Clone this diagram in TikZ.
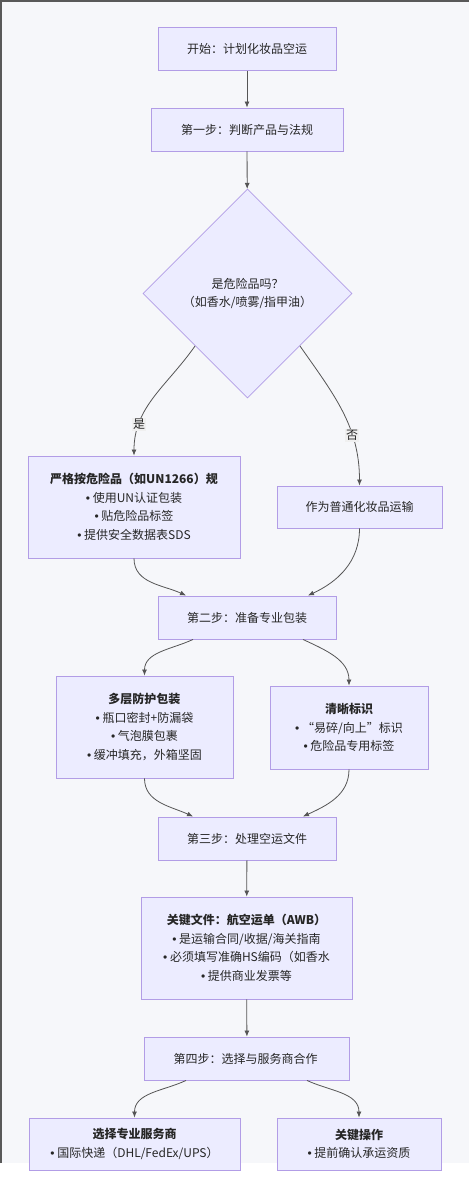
\documentclass[tikz,border=0pt]{standalone}
\usepackage{fontspec}
\setmainfont{Noto Sans CJK SC}
\newfontfamily\bulfont{Liberation Sans}
\newcommand\bul{{\bulfont •}\ }
\usetikzlibrary{shapes.geometric,arrows.meta}
\definecolor{boxfill}{HTML}{ECECFF}
\definecolor{boxline}{HTML}{B29DE6}
\definecolor{linegray}{HTML}{555555}
\definecolor{bgpaper}{HTML}{F6F7FA}
\tikzset{
  box/.style={draw=boxline, fill=boxfill, line width=0.9pt, inner sep=0pt,
    align=center, text=black!85, font=\fontsize{12}{18.5}\selectfont},
  flow/.style={draw=linegray, line width=0.8pt, -{Latex[length=6pt,width=5pt]}},
  edgelbl/.style={fill=black!6, inner sep=1pt, text=black!85, font=\fontsize{12}{14}\selectfont}
}
\begin{document}
\begin{tikzpicture}[x=1pt,y=1pt]
  \useasboundingbox (0,0) rectangle (469,-1179);
  \fill[bgpaper] (0,0) rectangle (469,-1163);
  \draw[black!65, line width=1.5pt] (0.75,-1163) -- (0.75,-0.75) -- (469,-0.75);

  % Hauptschritte
  \foreach \n/\y/\w/\txt in {
      start/49/178/开始：计划化妆品空运,
      s1/129.5/192/第一步：判断产品与法规,
      s2/617.5/178/第二步：准备专业包装,
      s3/838.5/178/第三步：处理空运文件,
      s4/1058.5/205/第四步：选择与服务商合作
    } {
    \node[box, minimum width=\w pt, minimum height=43pt] (\n) at (247,-\y) {\txt};
  }

  % Entscheidung
  \node[box, diamond, aspect=1, line width=0.7pt, minimum size=209pt] (dia) at (247.5,-293.5)
    {是危险品吗？\\（如香水/喷雾/指甲油）};
  \node[box, minimum width=212pt, minimum height=102pt] (yes) at (134,-507)
    {\textbf{严格按危险品（如UN1266）规}\\\bul 使用UN认证包装\\\bul 贴危险品标签\\\bul 提供安全数据表SDS};
  \node[box, minimum width=165pt, minimum height=42pt] (no) at (359.5,-507) {作为普通化妆品运输};

  % Verpackung
  \node[box, minimum width=177pt, minimum height=102pt] (pack) at (144.5,-727)
    {\textbf{多层防护包装}\\\bul 瓶口密封+防漏袋\\\bul 气泡膜包裹\\\bul 缓冲填充，外箱坚固};
  \node[box, minimum width=158pt, minimum height=83pt] (mark) at (349,-727.5)
    {\textbf{清晰标识}\\\bul “易碎/向上”标识\\\bul 危险品专用标签};

  % Dokumente
  \node[box, minimum width=211pt, minimum height=102pt] (awb) at (246.5,-948)
    {\textbf{关键文件：航空运单（AWB）}\\\bul 是运输合同/收据/海关指南\\\bul 必须填写准确HS编码（如香水\\\bul 提供商业发票等};

  % Dienstleister
  \node[box, minimum width=211pt, minimum height=52pt] (prov) at (134.5,-1144)
    {\textbf{选择专业服务商}\\\bul 国际快递（DHL/FedEx/UPS）};
  \node[box, minimum width=164pt, minimum height=52pt] (keyop) at (359,-1144)
    {\textbf{关键操作}\\\bul 提前确认承运资质};

  % Verbindungen
  \draw[flow] (start) -- (s1);
  \draw[flow] (s1) -- (dia);
  \draw[flow] (dia.south west) to[out=-125, in=90] node[edgelbl, pos=0.76] {是} (yes.north);
  \draw[flow] (dia.south east) to[out=-55, in=90] node[edgelbl, pos=0.68] {否} (no.north);
  \draw[flow] (yes.south) to[out=-90, in=155] ([xshift=-61pt]s2.north);
  \draw[flow] (no.south) to[out=-90, in=25] ([xshift=61pt]s2.north);
  \draw[flow] ([xshift=-54pt]s2.south) to[out=-155, in=90] (pack.north);
  \draw[flow] ([xshift=56pt]s2.south) to[out=-25, in=90] (mark.north);
  \draw[flow] (pack.south) to[out=-90, in=155] ([xshift=-54pt]s3.north);
  \draw[flow] (mark.south) to[out=-90, in=25] ([xshift=56pt]s3.north);
  \draw[flow] (s3) -- (awb);
  \draw[flow] (awb) -- (s4);
  \draw[flow] ([xshift=-61pt]s4.south) to[out=-155, in=90] (prov.north);
  \draw[flow] ([xshift=60pt]s4.south) to[out=-25, in=90] (keyop.north);
\end{tikzpicture}
\end{document}
